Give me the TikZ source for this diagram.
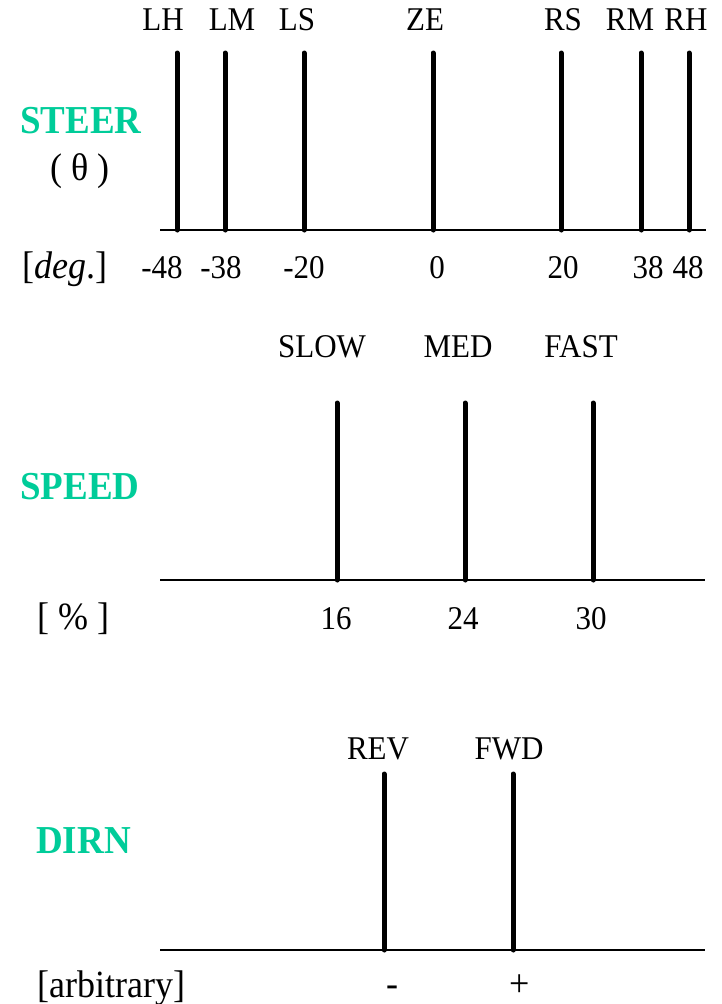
\documentclass[tikz,border=0pt]{standalone}
\usepackage{fontspec}
\setmainfont{Liberation Serif}
\definecolor{termgreen}{HTML}{00CC99}
% slightly taller glyphs for all labels
\newcommand\tallbox[1]{\scalebox{1}[1.07]{#1}}
\begin{document}
\begin{tikzpicture}[x=1pt,y=-1pt,
  term/.style={font=\fontsize{31}{31}\selectfont, inner sep=0pt, anchor=base},
  unit/.style={font=\fontsize{36}{36}\selectfont, inner sep=0pt, anchor=base west},
  sign/.style={font=\fontsize{36}{36}\selectfont, inner sep=0pt, anchor=base},
  var/.style={font=\fontsize{37}{37}\selectfont\bfseries, text=termgreen, inner sep=0pt, anchor=base west},
  axisline/.style={line width=1.8pt},
  setline/.style={line width=5pt, line cap=round}]
\useasboundingbox (0,0) rectangle (722,1004);

% ---- steering angle ----
\coordinate (steerL) at (160,230);
\coordinate (steerR) at (706,230);
\draw[axisline] (steerL) -- (steerR);
\foreach \nm/\lx/\px/\val/\nx in {LH/163/177/-48/162, LM/232/225/-38/221,
    LS/297/304/-20/304, ZE/425/433/0/437, RS/563/561/20/563,
    RM/630/641/38/648, RH/686/689/48/688} {
  \node[term] (st\nm) at (\lx,30) {\tallbox{\nm}};
  \coordinate (stTop\nm) at (\px,53);
  \coordinate (stBot\nm) at (\px,230);
  \draw[setline] (stTop\nm) -- (stBot\nm);
  \node[term] (stVal\nm) at (\nx,278) {\tallbox{\val}};
}
\node[var] (steer) at (20,133) {\tallbox{STEER}};
\node[unit, anchor=base] (theta) at (80,180) {\tallbox{( θ )}};
\node[unit] (degunit) at (22,278) {\tallbox{[\textit{deg}.]}};

% ---- speed ----
\coordinate (speedL) at (160,580);
\coordinate (speedR) at (705,580);
\draw[axisline] (speedL) -- (speedR);
\foreach \nm/\lx/\px/\val/\nx in {SLOW/322/337/16/336, MED/458/465/24/463,
    FAST/581/593/30/591} {
  \node[term] (sp\nm) at (\lx,357) {\tallbox{\nm}};
  \coordinate (spTop\nm) at (\px,403);
  \coordinate (spBot\nm) at (\px,580);
  \draw[setline] (spTop\nm) -- (spBot\nm);
  \node[term] (spVal\nm) at (\nx,629) {\tallbox{\val}};
}
\node[var] (speed) at (20,499) {\tallbox{SPEED}};
\node[unit] (pctunit) at (37,629) {\tallbox{[ \% ]}};

% ---- direction ----
\coordinate (dirL) at (160,950);
\coordinate (dirR) at (705,950);
\draw[axisline] (dirL) -- (dirR);
\foreach \nm/\lx/\px/\val/\nx in {REV/378/384/-/392, FWD/509/513/+/520} {
  \node[term] (dr\nm) at (\lx,759) {\tallbox{\nm}};
  \coordinate (drTop\nm) at (\px,774);
  \coordinate (drBot\nm) at (\px,950);
  \draw[setline] (drTop\nm) -- (drBot\nm);
  \node[sign] (drVal\nm) at (\nx,996) {\tallbox{\val}};
}
\node[var] (dirn) at (36,853) {\tallbox{DIRN}};
\node[unit] (arbunit) at (37,997) {\tallbox{[arbitrary]}};
\end{tikzpicture}
\end{document}
